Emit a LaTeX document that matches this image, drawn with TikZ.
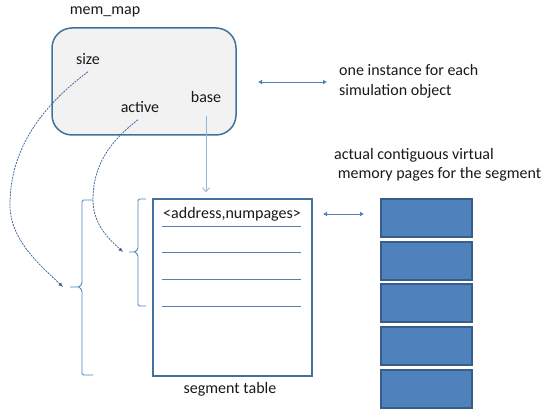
\documentclass[tikz,border=0pt]{standalone}
\usepackage{fontspec}
\setmainfont{Carlito}
\usetikzlibrary{arrows.meta}
\definecolor{boxline}{HTML}{41719C}
\definecolor{boxfill}{HTML}{F2F2F2}
\definecolor{pagefill}{HTML}{4F81BD}
\definecolor{pageline}{HTML}{385D8A}
\definecolor{linkblue}{HTML}{4F81BD}
\definecolor{paleblue}{HTML}{95B3D7}
\definecolor{dashblue}{HTML}{41699E}
\begin{document}
\begin{tikzpicture}[x=1pt,y=-1pt,
  txt/.style={inner sep=0pt,font=\fontsize{16}{19.5}\selectfont,text=black!90},
  ltxt/.style={txt,anchor=west,align=left},
  pagebox/.style={draw=pageline,fill=pagefill,line width=1.3pt,minimum width=91pt,minimum height=38pt,inner sep=0pt},
  dbl/.style={linkblue,line width=0.8pt,{Latex[length=4pt,width=5pt]}-{Latex[length=4pt,width=5pt]}},
  dashlink/.style={dashblue,line width=0.8pt,dash pattern=on 2pt off 1pt,-{Latex[length=4.5pt,width=4pt]}},
  brace/.style={linkblue,line width=0.9pt,rounded corners=1.5pt},
  rowline/.style={linkblue,line width=0.8pt}]
\useasboundingbox (0,0) rectangle (544,411);
% mem_map box
\node[txt] (title) at (105,12) {mem\_map};
\node[draw=boxline,fill=boxfill,line width=1.5pt,rounded corners=20pt,minimum width=184pt,minimum height=107pt,inner sep=0pt] (mem) at (144,81.5) {};
\node[txt] (size) at (88,59) {size};
\node[txt] (active) at (140,107) {active};
\node[txt] (base) at (206,97) {base};
% top double arrow and text
\coordinate (ia) at (258,82);
\coordinate (ib) at (327,82);
\draw[dbl] (ia) -- (ib);
\node[ltxt] (inst) at (339,81.5) {one instance for each\\simulation object};
\node[ltxt] (actual) at (334,165) {actual contiguous virtual\\\ memory pages for the segment};
% segment table
\node[draw=boxline,fill=white,line width=1.5pt,minimum width=159pt,minimum height=177pt,inner sep=0pt] (table) at (232.5,287.5) {};
\node[txt] (hdr) at (232,214) {<address,numpages>};
\foreach \yy/\nm in {226/r1,252/r2,279/r3,306/r4}{
  \coordinate (\nm a) at (162,\yy);
  \coordinate (\nm b) at (301,\yy);
  \draw[rowline] (\nm a) -- (\nm b);
}
\node[txt] (seglabel) at (230,389) {segment table};
\draw[paleblue,line width=0.8pt,-{Straight Barb[length=4pt,width=7pt]}] ([yshift=-13pt]base.south) -- ([yshift=6pt]table.north -| base);
% pages
\node[pagebox] (p1) at (426.5,218) {};
\node[pagebox] (p2) at (426.5,261) {};
\node[pagebox] (p3) at (426.5,303) {};
\node[pagebox] (p4) at (426.5,346) {};
\node[pagebox] (p5) at (426.5,389) {};
\coordinate (ta) at (323,214);
\coordinate (tb) at (364,214);
\draw[dbl] (ta) -- (tb);
% braces
\coordinate (bigtip) at (70,287);
\coordinate (smalltip) at (129,252);
\draw[brace] (93,200) -- (82,200) -- (82,284) -- (79,287) -- (bigtip);
\draw[brace] (79,287) -- (82,290) -- (82,375) -- (93,375);
\draw[brace] (146,199) -- (138,199) -- (138,249) -- (135,252) -- (smalltip);
\draw[brace] (135,252) -- (138,255) -- (138,306) -- (146,306);
% dashed links
\coordinate (sizeend) at (63,287);
\coordinate (activeend) at (123,252);
\draw[dashlink] ([shift={(0,7)}]size.south) .. controls (30,115) and (10,160) .. (10,205) .. controls (10,240) and (40,265) .. (sizeend);
\draw[dashlink] ([shift={(-2,7)}]active.south) .. controls (105,145) and (93,170) .. (93,200) .. controls (93,225) and (110,240) .. (activeend);
\end{tikzpicture}
\end{document}
